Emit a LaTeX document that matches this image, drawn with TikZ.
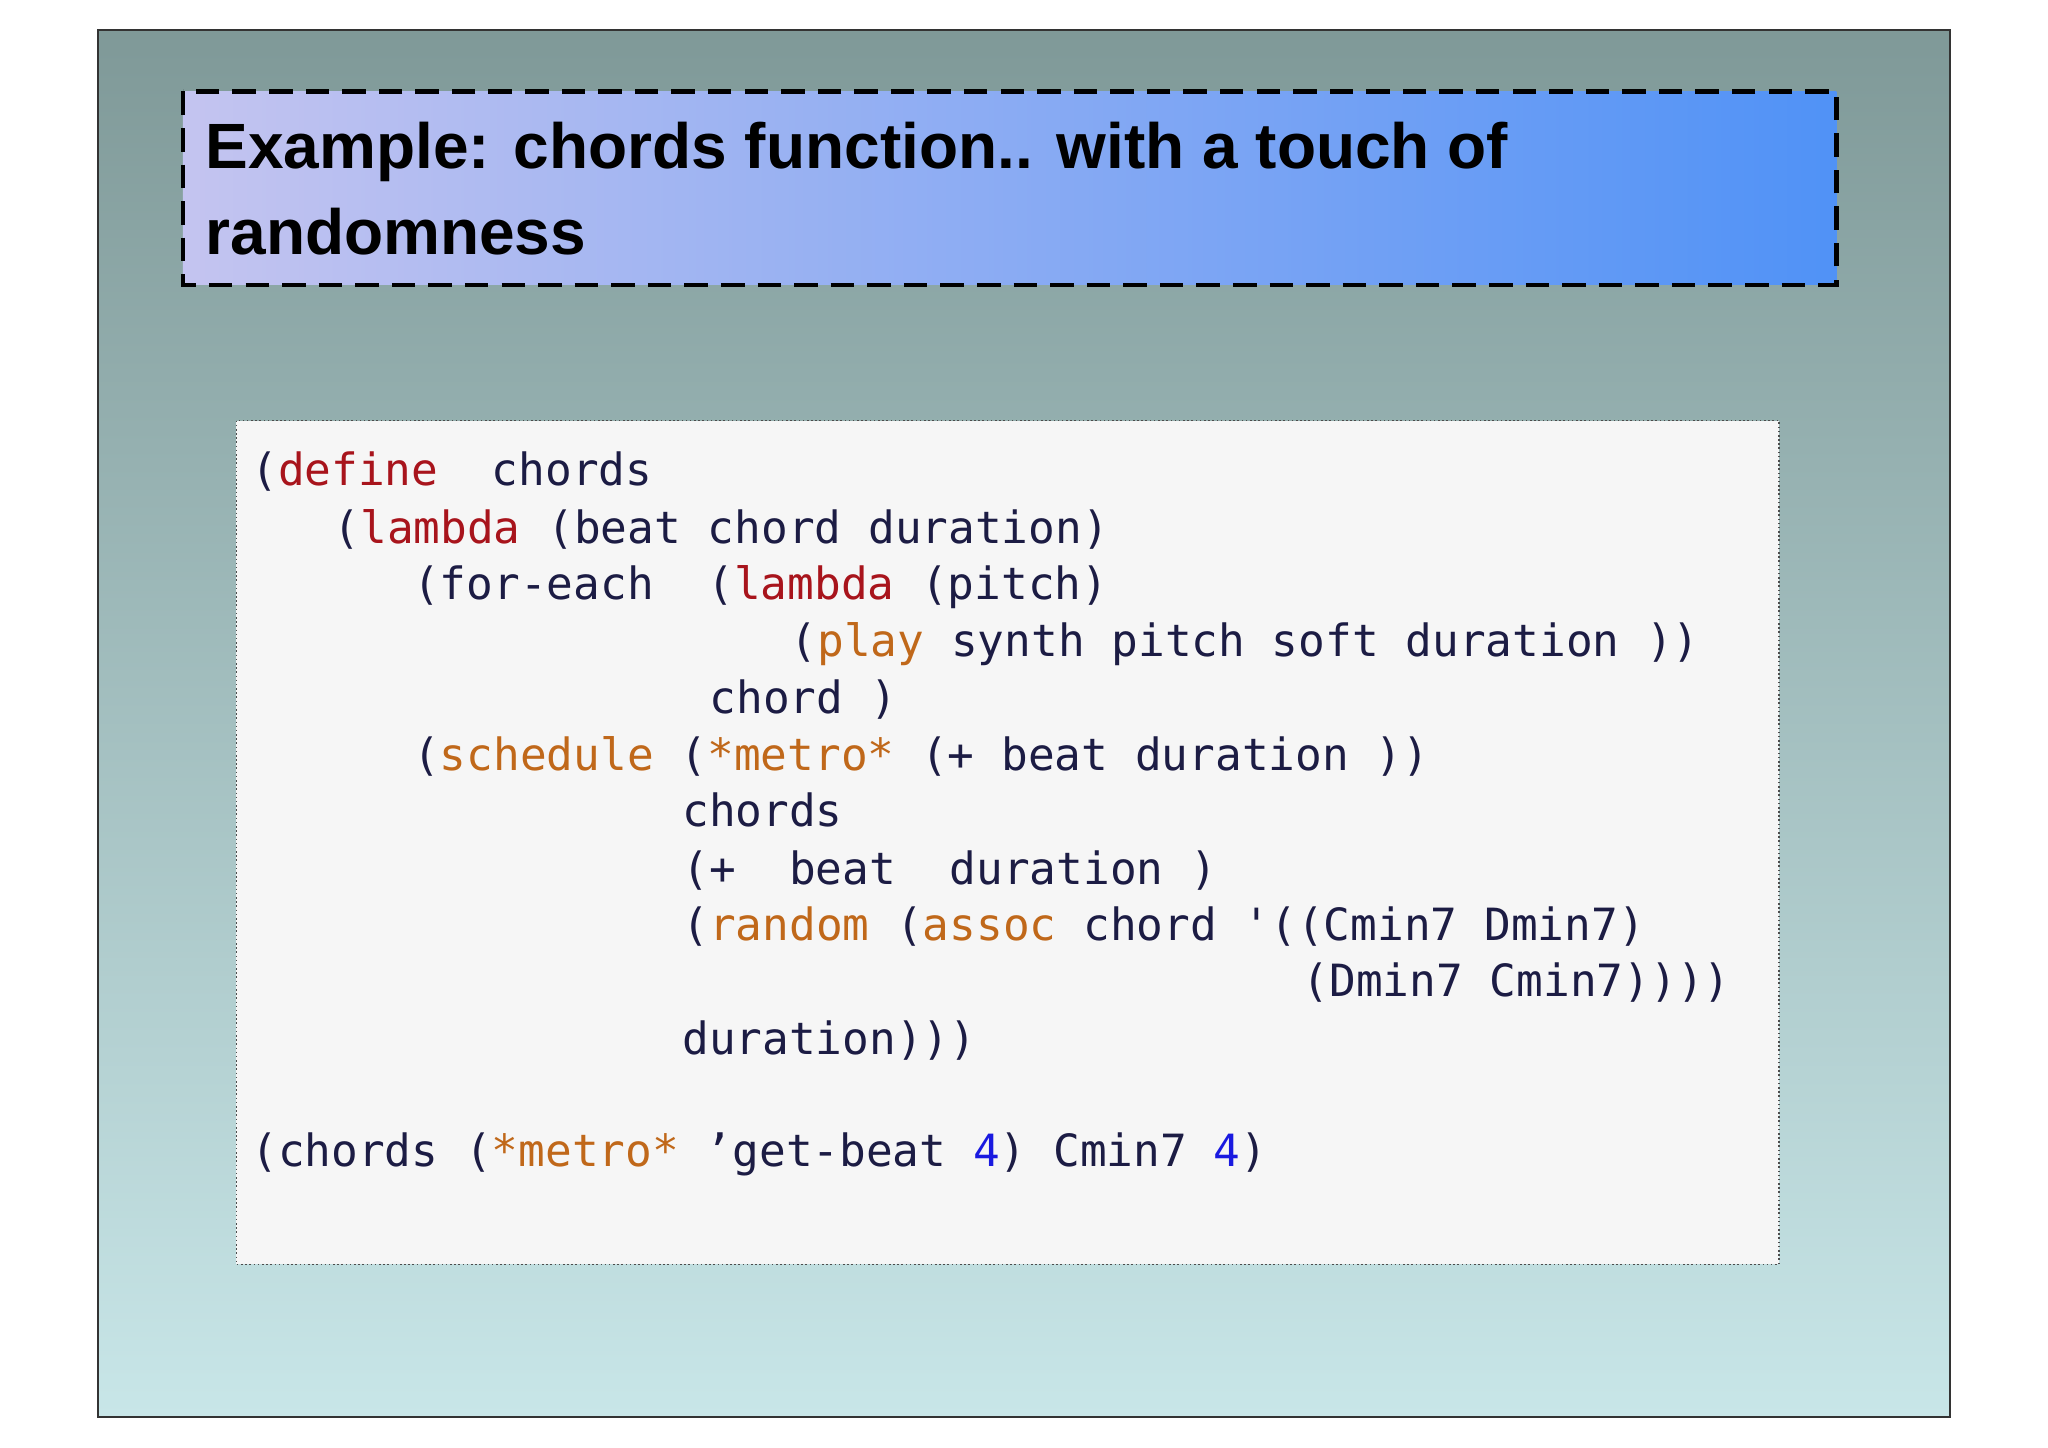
\documentclass[tikz,border=0pt]{standalone}
\usepackage{fontspec}
\setmainfont{Liberation Sans}
\newfontfamily\codefont{DejaVu Sans Mono}
\definecolor{cdark}{HTML}{1C1C44}
\definecolor{cred}{HTML}{A8141C}
\definecolor{corg}{HTML}{C0681A}
\definecolor{cblue}{HTML}{1A1AE0}
\newcommand{\kr}[1]{\textcolor{cred}{#1}}
\newcommand{\ko}[1]{\textcolor{corg}{#1}}
\newcommand{\kb}[1]{\textcolor{cblue}{#1}}
\tikzset{codeline/.style={anchor=base west,inner sep=0pt,text=cdark,font=\codefont\fontsize{17}{20}\selectfont},
titleline/.style={anchor=base west,inner sep=0pt,font=\bfseries\fontsize{24.5}{28}\selectfont}}
\begin{document}
\begin{tikzpicture}[x=0.5pt,y=-0.5pt]
\useasboundingbox (0,0) rectangle (1568,1108);
\fill[white] (0,0) rectangle (1568,1108);
\shade[top color={rgb,255:red,127;green,153;blue,152},bottom color={rgb,255:red,200;green,230;blue,232},draw=black!80,line width=0.6pt] (75,23) rectangle (1493,1085);
\shade[left color={rgb,255:red,196;green,196;blue,240},right color={rgb,255:red,80;green,146;blue,246}] (140,70) rectangle (1406,218);
\draw[dashed,line width=1.6pt,dash pattern=on 9pt off 5pt] (140,70) rectangle (1406,218);
\node[titleline] (t1) at (157,129) {Example: chords function.. with a touch of};
\node[titleline] (t2) at (157,195) {randomness};
\draw[fill={rgb,255:red,246;green,246;blue,246},draw=black!70,densely dotted,line width=0.6pt] (181,322) rectangle (1362,968);
\node[codeline] (c1) at (192,372) {(\kr{define}~~chords};
\node[codeline] (c2) at (255,416) {(\kr{lambda} (beat chord duration)};
\node[codeline] (c3) at (316,459) {(for-each~~(\kr{lambda} (pitch)};
\node[codeline] (c4) at (605,503) {(\ko{play} synth pitch soft duration ))};
\node[codeline] (c5) at (543,546) {chord )};
\node[codeline] (c6) at (316,590) {(\ko{schedule} (\ko{*metro*} (+ beat duration ))};
\node[codeline] (c7) at (522,633) {chords};
\node[codeline] (c8) at (522,677) {(+~~beat~~duration )};
\node[codeline] (c9) at (522,720) {(\ko{random} (\ko{assoc} chord '((Cmin7 Dmin7)};
\node[codeline] (c10) at (997,763) {(Dmin7 Cmin7))))};
\node[codeline] (c11) at (522,807) {duration)))};
\node[codeline] (c12) at (192,893) {(chords (\ko{*metro*} ’get-beat \kb{4}) Cmin7 \kb{4})};
\end{tikzpicture}
\end{document}
